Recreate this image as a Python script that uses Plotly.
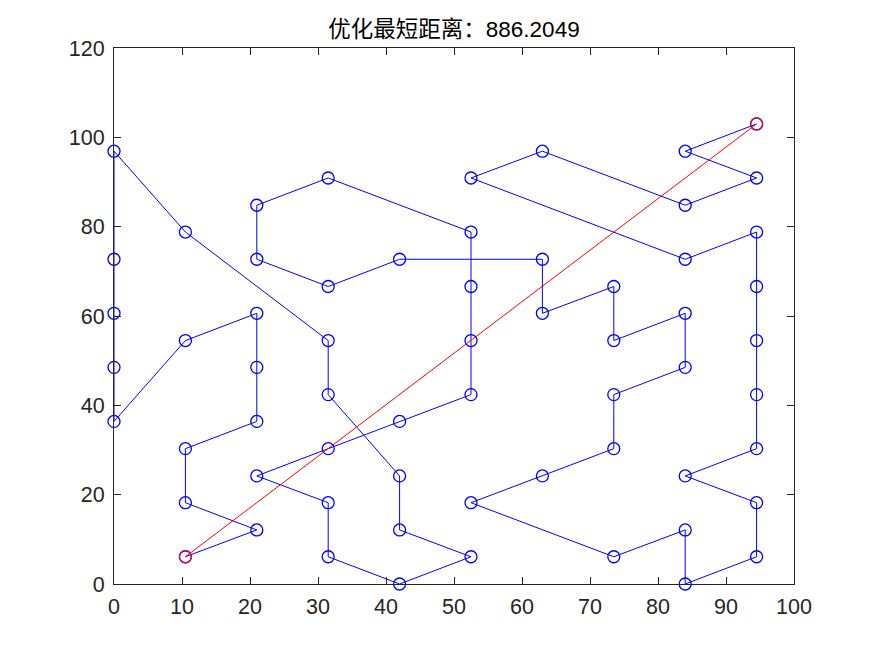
import plotly.graph_objects as go

# Tour order (x, y)
route_x = [10.5, 21, 10.5, 10.5, 21, 21, 21, 10.5, 0, 0, 0, 0, 0,
           10.5, 31.5, 31.5, 42, 42, 52.5, 42, 31.5, 31.5, 21, 31.5, 42,
           52.5, 52.5, 52.5, 52.5, 31.5, 21, 21, 31.5, 42, 63, 63, 73.5,
           73.5, 84, 84, 73.5, 73.5, 63, 52.5, 73.5, 84, 84, 94.5, 94.5,
           84, 94.5, 94.5, 94.5, 94.5, 94.5, 84, 52.5, 63, 84, 94.5, 84, 94.5]
route_y = [6.1, 12.1, 18.2, 30.3, 36.4, 48.5, 60.6, 54.5, 36.4, 48.5, 60.6, 72.7, 96.9,
           78.8, 54.5, 42.4, 24.2, 12.1, 6.1, 0, 6.1, 18.2, 24.2, 30.3, 36.4,
           42.4, 54.5, 66.6, 78.8, 90.9, 84.8, 72.7, 66.6, 72.7, 72.7, 60.6, 66.6,
           54.5, 60.6, 48.5, 42.4, 30.3, 24.2, 18.2, 6.1, 12.1, 0, 6.1, 18.2,
           24.2, 30.3, 42.4, 54.5, 66.6, 78.8, 72.7, 90.9, 96.9, 84.8, 90.9, 96.9, 103]

title_text = "优化最短距离：886.2049"
x_ticks = [0, 10, 20, 30, 40, 50, 60, 70, 80, 90, 100]
y_ticks = [0, 20, 40, 60, 80, 100, 120]

FONT = "Liberation Sans, Arial, Noto Sans CJK SC, sans-serif"
AX = "#262626"

fig = go.Figure()
fig.add_trace(go.Scatter(
    x=route_x, y=route_y, mode="lines+markers", cliponaxis=False,
    line=dict(color="#0000FF", width=1),
    marker=dict(symbol="circle-open", size=12, color="#0000FF", line=dict(width=1.3)),
    hoverinfo="skip", showlegend=False))
fig.add_trace(go.Scatter(
    x=[route_x[-1], route_x[0]], y=[route_y[-1], route_y[0]], mode="lines",
    cliponaxis=False,
    line=dict(color="#FF0000", width=1), hoverinfo="skip", showlegend=False))
fig.add_trace(go.Scatter(
    x=[route_x[0], route_x[-1]], y=[route_y[0], route_y[-1]], mode="markers",
    cliponaxis=False,
    marker=dict(symbol="circle-open", size=12, color="#C8103C", line=dict(width=1.3)),
    hoverinfo="skip", showlegend=False))

axis_common = dict(
    showgrid=False, zeroline=False, showline=True, linecolor=AX, linewidth=1,
    mirror="ticks", ticks="inside", ticklen=7, tickcolor=AX, tickwidth=1,
    tickfont=dict(family=FONT, size=21.5, color=AX),
)
fig.update_xaxes(range=[0, 100], tickvals=x_ticks, ticklabelstandoff=3, **axis_common)
fig.update_yaxes(range=[0, 120], tickvals=y_ticks, ticklabelstandoff=4, **axis_common)

fig.update_layout(
    width=875, height=656,
    margin=dict(l=114, r=81, t=48, b=72, pad=0),
    paper_bgcolor="white", plot_bgcolor="white",
    title=dict(text=title_text, x=0.5, xref="paper", xanchor="center",
               y=1 - 29 / 656, yref="container", yanchor="middle",
               font=dict(family=FONT, size=22.5, color="#000000")),
)

fig.write_html("out.html")
